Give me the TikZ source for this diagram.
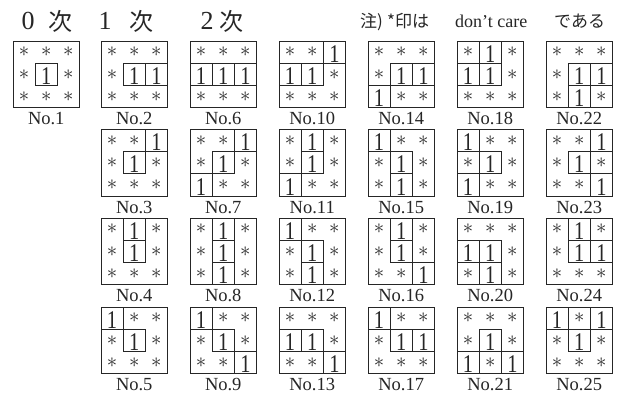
\documentclass[tikz,border=0pt]{standalone}
\usepackage{fontspec}
\setmainfont{Liberation Serif}
\newfontfamily\cjk{Noto Sans CJK JP}
\newfontfamily\narrowone[FakeStretch=0.8]{Liberation Serif}
\usetikzlibrary{calc}
\definecolor{ink}{HTML}{262626}
\tikzset{
  patframe/.style={draw=ink, line width=0.9pt, minimum width=66.5pt, minimum height=66.5pt, inner sep=0pt, outer sep=0pt, anchor=north west},
  onecell/.style={draw=ink, line width=0.9pt, minimum size=22.17pt, inner sep=0pt, outer sep=0pt},
  onetext/.style={text=ink, font=\narrowone\fontsize{25.5}{25.5}\selectfont, inner sep=0pt, anchor=base},
  startext/.style={text=ink, font=\fontsize{20}{20}\selectfont, inner sep=0pt},
  nolabel/.style={text=ink, font=\fontsize{18.5}{18.5}\selectfont, inner sep=0pt, anchor=base},
  headdigit/.style={text=ink, font=\fontsize{26}{26}\selectfont, inner sep=0pt, anchor=base},
  headkanji/.style={text=ink, font=\cjk\fontsize{24}{24}\selectfont, inner sep=0pt, anchor=base},
  notetext/.style={text=ink, font=\cjk\fontsize{17}{17}\selectfont, inner sep=0pt, anchor=base west},
  noteroman/.style={text=ink, font=\fontsize{18}{18}\selectfont, inner sep=0pt, anchor=base west},
}
\newcommand\cellpat[4]{%
  \node[patframe] (box#1) at (#2,#3) {};
  \foreach \v [count=\i from 0] in {#4} {
    \pgfmathtruncatemacro\cc{mod(\i,3)}
    \pgfmathtruncatemacro\rr{int(\i/3)}
    \pgfmathsetmacro\cx{#2+11.083+22.167*\cc}
    \pgfmathsetmacro\cy{#3+11.083+22.167*\rr}
    \if1\v
      \node[onecell] (c#1-\i) at (\cx,\cy) {};
      \node[onetext] (t#1-\i) at ($(c#1-\i.south)+(0,-1)$) {1};
    \else
      \node[startext] (t#1-\i) at (\cx,\cy) {$\ast$};
    \fi
  }
  \node[nolabel] (lab#1) at ($(box#1.south)+(0,17)$) {No.#1};
}
\begin{document}
\begin{tikzpicture}[x=1pt,y=-1pt]
\path[use as bounding box, fill=white] (0,0) rectangle (619,396);
% headings
\node[headdigit] (h0) at (28,30) {0};
\node[headkanji] (k0) at (60,31) {次};
\node[headdigit] (h1) at (105,30) {1};
\node[headkanji] (k1) at (141,31) {次};
\node[headdigit] (h2) at (207,30) {2};
\node[headkanji] (k2) at (231,31) {次};
\node[notetext] (n1) at (360,28) {注)};
\node[notetext] (n2) at (387,28) {*印は};
\node[noteroman] (n3) at (455,28) {don’t care};
\node[notetext] (n4) at (554,28) {である};
% patterns
\cellpat{1}{13}{41}{*,*,*,*,1,*,*,*,*}
\cellpat{2}{101}{41}{*,*,*,*,1,1,*,*,*}
\cellpat{3}{101}{129.5}{*,*,1,*,1,*,*,*,*}
\cellpat{4}{101}{218}{*,1,*,*,1,*,*,*,*}
\cellpat{5}{101}{307}{1,*,*,*,1,*,*,*,*}
\cellpat{6}{190}{41}{*,*,*,1,1,1,*,*,*}
\cellpat{7}{190}{129.5}{*,*,1,*,1,*,1,*,*}
\cellpat{8}{190}{218}{*,1,*,*,1,*,*,1,*}
\cellpat{9}{190}{307}{1,*,*,*,1,*,*,*,1}
\cellpat{10}{279}{41}{*,*,1,1,1,*,*,*,*}
\cellpat{11}{279}{129.5}{*,1,*,*,1,*,1,*,*}
\cellpat{12}{279}{218}{1,*,*,*,1,*,*,1,*}
\cellpat{13}{279}{307}{*,*,*,1,1,*,*,*,1}
\cellpat{14}{368}{41}{*,*,*,*,1,1,1,*,*}
\cellpat{15}{368}{129.5}{1,*,*,*,1,*,*,1,*}
\cellpat{16}{368}{218}{*,1,*,*,1,*,*,*,1}
\cellpat{17}{368}{307}{1,*,*,*,1,1,*,*,*}
\cellpat{18}{457}{41}{*,1,*,1,1,*,*,*,*}
\cellpat{19}{457}{129.5}{1,*,*,*,1,*,1,*,*}
\cellpat{20}{457}{218}{*,*,*,1,1,*,*,1,*}
\cellpat{21}{457}{307}{*,*,*,*,1,*,1,*,1}
\cellpat{22}{546}{41}{*,*,*,*,1,1,*,1,*}
\cellpat{23}{546}{129.5}{*,*,1,*,1,*,*,*,1}
\cellpat{24}{546}{218}{*,1,*,*,1,1,*,*,*}
\cellpat{25}{546}{307}{1,*,1,*,1,*,*,*,*}
\end{tikzpicture}
\end{document}
